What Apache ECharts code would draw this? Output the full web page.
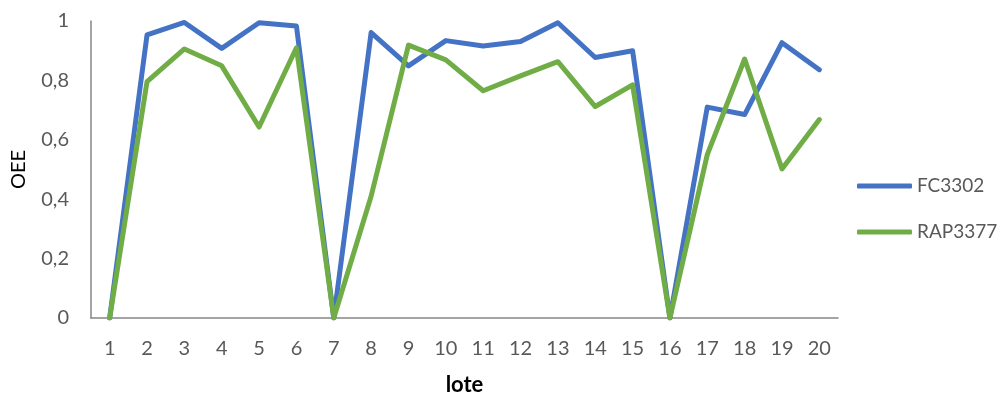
<!DOCTYPE html>
<html>
<head>
<meta charset="utf-8">
<script src="https://cdn.jsdelivr.net/npm/echarts@6/dist/echarts.min.js"></script>
<style>
  html, body { margin: 0; padding: 0; background: #fff; }
  #chart { width: 1008px; height: 401px; }
</style>
</head>
<body>
<div id="chart"></div>
<script>
// Batch numbers (lote) on the x axis
const lotes = ['1','2','3','4','5','6','7','8','9','10','11','12','13','14','15','16','17','18','19','20'];

// OEE per batch for each machine
const fc3302 = [0, 0.953, 0.995, 0.908, 0.994, 0.983, 0, 0.961, 0.849, 0.934,
                0.916, 0.931, 0.994, 0.877, 0.900, 0, 0.710, 0.685, 0.927, 0.836];
const rap3377 = [0, 0.796, 0.906, 0.849, 0.643, 0.910, 0, 0.410, 0.919, 0.869,
                 0.765, 0.815, 0.863, 0.712, 0.785, 0, 0.550, 0.872, 0.502, 0.668];

const seriesNames = ['FC3302', 'RAP3377'];
const seriesColors = ['#4472C4', '#70AD47'];

const FONT = 'Lato, "Open Sans", sans-serif';
const TEXT = '#595959';

const chart = echarts.init(document.getElementById('chart'), null, { renderer: 'canvas' });

chart.setOption({
  animation: false,
  backgroundColor: '#ffffff',
  grid: { left: 91, right: 170, top: 21, bottom: 82, containLabel: false },
  legend: {
    orient: 'vertical',
    left: 857,
    top: 175,
    padding: 0,
    itemWidth: 55,
    itemHeight: 5,
    itemGap: 24,
    data: seriesNames.map((n, i) => ({ name: n, icon: 'roundRect', itemStyle: { color: seriesColors[i] } })),
    textStyle: { fontFamily: FONT, fontSize: 19, lineHeight: 22, color: TEXT }
  },
  xAxis: {
    type: 'category',
    data: lotes,
    boundaryGap: true,
    name: 'lote',
    nameLocation: 'middle',
    nameGap: 56,
    nameTextStyle: { fontFamily: FONT, fontSize: 22, fontWeight: 'bold', color: '#000' },
    axisLine: { show: true, lineStyle: { color: '#868686', width: 1.5 } },
    axisTick: { show: false },
    axisLabel: { fontFamily: FONT, fontSize: 20, color: TEXT, margin: 21 }
  },
  yAxis: {
    type: 'value',
    min: 0,
    max: 1,
    interval: 0.2,
    name: 'OEE',
    nameLocation: 'middle',
    nameGap: 62,
    nameRotate: 90,
    nameTextStyle: { fontFamily: FONT, fontSize: 20, color: '#000' },
    axisLine: { show: true, lineStyle: { color: '#868686', width: 1.5 } },
    axisTick: { show: false },
    splitLine: { show: false },
    axisLabel: {
      fontFamily: FONT, fontSize: 20, color: TEXT, margin: 22,
      formatter: v => String(Math.round(v * 10) / 10).replace('.', ',')
    }
  },
  series: [
    { name: seriesNames[0], type: 'line', data: fc3302, symbol: 'none',
      lineStyle: { color: seriesColors[0], width: 5, cap: 'round', join: 'round' },
      itemStyle: { color: seriesColors[0] } },
    { name: seriesNames[1], type: 'line', data: rap3377, symbol: 'none',
      lineStyle: { color: seriesColors[1], width: 5, cap: 'round', join: 'round' },
      itemStyle: { color: seriesColors[1] } }
  ]
});
</script>
</body>
</html>
